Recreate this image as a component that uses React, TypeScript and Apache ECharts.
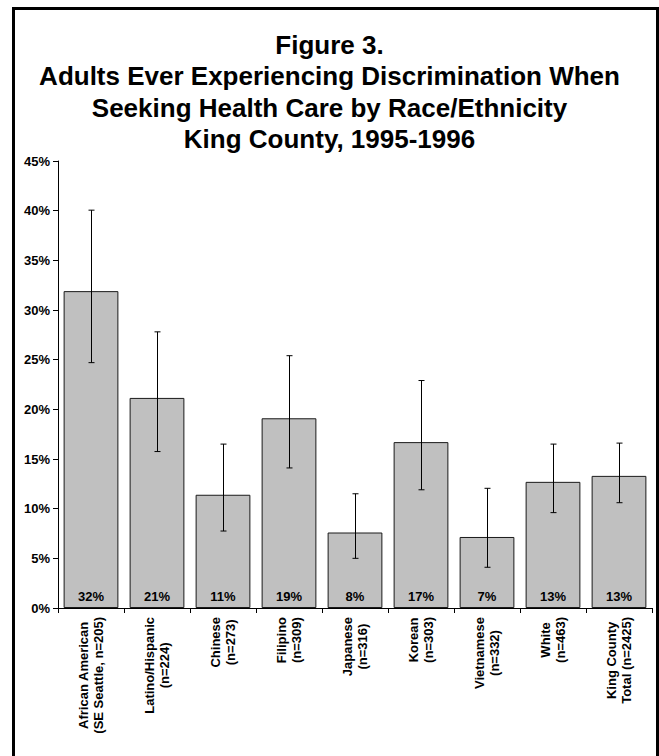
import React, { useEffect, useRef } from "react";
import * as echarts from "echarts";

const categories: string[][] = [
  ["African American", "(SE Seattle, n=205)"],
  ["Latino/Hispanic", "(n=224)"],
  ["Chinese", "(n=273)"],
  ["Filipino", "(n=309)"],
  ["Japanese", "(n=316)"],
  ["Korean", "(n=303)"],
  ["Vietnamese", "(n=332)"],
  ["White", "(n=463)"],
  ["King County", "Total (n=2425)"],
];
const percents: number[] = [31.9, 21.15, 11.4, 19.1, 7.6, 16.7, 7.15, 12.7, 13.3];
const lowerCI: number[] = [24.7, 15.75, 7.75, 14.1, 5.0, 11.9, 4.1, 9.6, 10.6];
const upperCI: number[] = [40.05, 27.8, 16.5, 25.4, 11.5, 22.9, 12.05, 16.5, 16.6];
const titleLines: string[] = [
  "Figure 3.",
  "Adults Ever Experiencing Discrimination When",
  "Seeking Health Care by Race/Ethnicity",
  "King County, 1995-1996",
];

const FONT = '"Liberation Sans", Arial, Helvetica, sans-serif';

export default function App() {
  const ref = useRef<HTMLDivElement>(null);
  useEffect(() => {
    if (!ref.current) return;
    const chart = echarts.init(ref.current, null, { renderer: "svg" });
    const catKeys = categories.map((c) => c.join("\n"));
    const errData = categories.map((_, i) => [i, lowerCI[i], upperCI[i]]);
    chart.setOption({
      animation: false,
      backgroundColor: "#ffffff",
      textStyle: { fontFamily: FONT },
      title: {
        text: titleLines.join("\n"),
        left: "center",
        top: 24,
        textStyle: {
          fontFamily: FONT,
          fontSize: 26,
          fontWeight: "bold",
          color: "#000",
          lineHeight: 31.5,
        },
      },
      graphic: [
        {
          type: "polyline",
          shape: {
            points: [
              [13.5, 800],
              [13.5, 8.5],
              [657.5, 8.5],
              [657.5, 800],
            ],
          },
          style: { stroke: "#000", lineWidth: 3, fill: "none" },
          silent: true,
        },
      ],
      grid: { left: 58, right: 7, top: 161, bottom: 148, containLabel: false },
      xAxis: {
        type: "category",
        data: catKeys,
        boundaryGap: true,
        axisLine: { show: true, lineStyle: { color: "#000", width: 1 } },
        axisTick: { show: true, length: 5, alignWithLabel: false, lineStyle: { color: "#000" } },
        axisLabel: {
          interval: 0,
          rotate: 90,
          margin: 9,
          fontFamily: FONT,
          formatter: (v: string) =>
            v
              .split("\n")
              .map((s) => "{l|" + s + "}")
              .join("\n"),
          rich: {
            l: {
              fontFamily: FONT,
              fontSize: 13,
              fontWeight: "bold",
              color: "#000",
              lineHeight: 15.5,
              align: "center",
            },
          },
        },
      },
      yAxis: {
        type: "value",
        min: 0,
        max: 45,
        interval: 5,
        splitLine: { show: false },
        axisLine: { show: true, lineStyle: { color: "#000", width: 1 } },
        axisTick: { show: true, length: 5, lineStyle: { color: "#000" } },
        axisLabel: {
          margin: 8,
          formatter: "{value}%",
          fontFamily: FONT,
          fontSize: 13,
          fontWeight: "bold",
          color: "#000",
        },
      },
      series: [
        {
          type: "bar",
          data: percents,
          barCategoryGap: "17%",
          itemStyle: { color: "#c0c0c0", borderColor: "#1a1a1a", borderWidth: 1 },
          label: {
            show: true,
            position: "insideBottom",
            distance: 5,
            formatter: (p: any) => Math.round(p.value) + "%",
            fontFamily: FONT,
            fontSize: 13,
            fontWeight: "bold",
            color: "#000",
          },
          z: 2,
        },
        {
          type: "custom",
          data: errData,
          encode: { x: 0, y: [1, 2] },
          z: 5,
          renderItem: (params: any, api: any) => {
            const x = api.value(0);
            const lo = api.coord([x, api.value(1)]);
            const hi = api.coord([x, api.value(2)]);
            const cx = Math.round(lo[0]) + 0.5;
            const cap = 3;
            const style = { stroke: "#000", lineWidth: 1 };
            return {
              type: "group",
              children: [
                { type: "line", shape: { x1: cx, y1: lo[1], x2: cx, y2: hi[1] }, style },
                { type: "line", shape: { x1: cx - cap, y1: lo[1], x2: cx + cap, y2: lo[1] }, style },
                { type: "line", shape: { x1: cx - cap, y1: hi[1], x2: cx + cap, y2: hi[1] }, style },
              ],
            };
          },
        },
      ],
    });
    return () => chart.dispose();
  }, []);
  return (
    <div
      ref={ref}
      style={{ position: "fixed", left: 0, top: 0, width: 659, height: 756 }}
    />
  );
}
